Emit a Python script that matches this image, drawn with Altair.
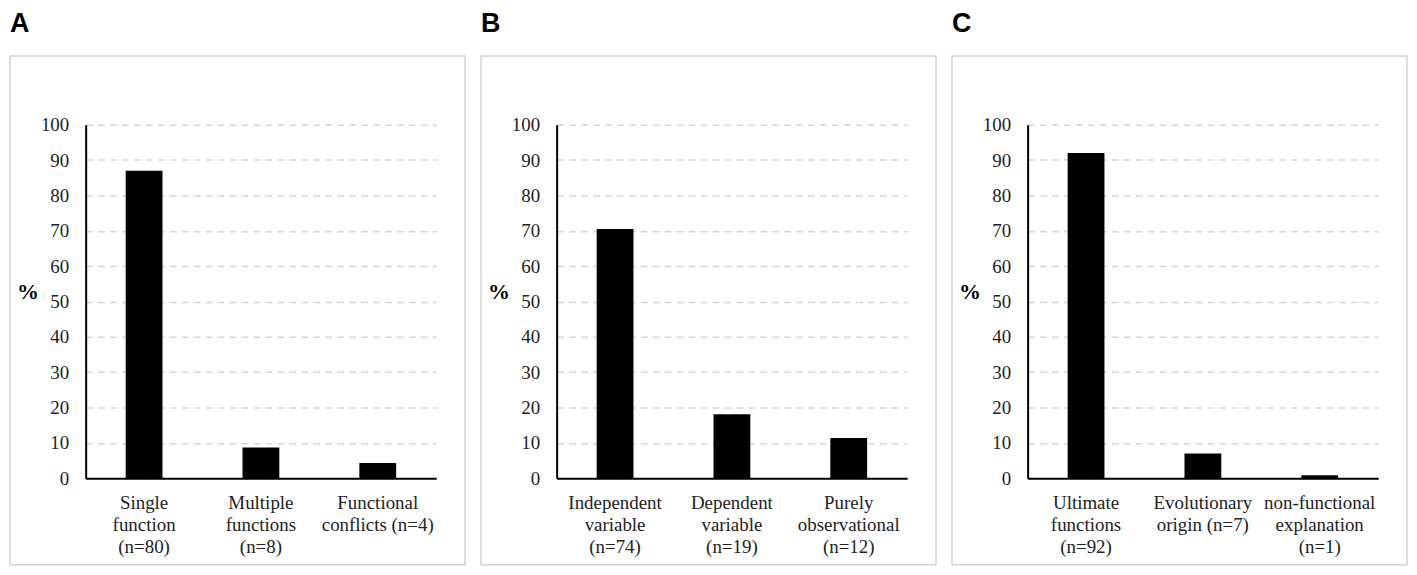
import altair as alt
import pandas as pd

panel_letters = ["A", "B", "C"]

cats_A = ["Single\nfunction\n(n=80)", "Multiple\nfunctions\n(n=8)", "Functional\nconflicts (n=4)"]
vals_A = [87.0, 8.7, 4.3]

cats_B = ["Independent\nvariable\n(n=74)", "Dependent\nvariable\n(n=19)", "Purely\nobservational\n(n=12)"]
vals_B = [70.5, 18.1, 11.4]

cats_C = ["Ultimate\nfunctions\n(n=92)", "Evolutionary\norigin (n=7)", "non-functional\nexplanation\n(n=1)"]
vals_C = [92.0, 7.0, 0.8]

y_ticks = [0, 10, 20, 30, 40, 50, 60, 70, 80, 90, 100]
y_title = "%"

W = 352
H = 355
SERIF = "Liberation Serif, DejaVu Serif, serif"


def panel(letter, cats, vals):
    df = pd.DataFrame({"cat": cats, "pct": vals})
    bars = alt.Chart(df).mark_bar(color="black").encode(
        x=alt.X(
            "cat:N",
            sort=cats,
            scale=alt.Scale(paddingInner=0.685, paddingOuter=0.3425),
            axis=alt.Axis(
                title=None,
                labelAngle=0,
                labelExpr="split(datum.label, '\\n')",
                labelFont=SERIF,
                labelFontSize=19,
                labelColor="#222222",
                labelPadding=15,
                labelLineHeight=22.5,
                labelBaseline="top",
                ticks=False,
                domainColor="black",
                domainWidth=2,
                zindex=1,
                labelLimit=300,
            ),
        ),
        y=alt.Y(
            "pct:Q",
            scale=alt.Scale(domain=[0, 100]),
            axis=alt.Axis(
                title=None,
                values=y_ticks,
                grid=True,
                gridDash=[7, 5],
                gridColor="#d6d6d6",
                gridWidth=1.5,
                ticks=False,
                domainColor="black",
                domainWidth=2,
                labelFont=SERIF,
                labelFontSize=19,
                labelColor="#222222",
                labelPadding=17,
            ),
        ),
    )
    one = alt.Data(values=[{"k": 1}])
    frame = alt.Chart(one).mark_rect(
        fillOpacity=0, stroke="#d4d4d4", strokeWidth=1.5
    ).encode(
        x=alt.value(-76), x2=alt.value(W + 29),
        y=alt.value(-69), y2=alt.value(H + 87),
    )
    lett = alt.Chart(one).mark_text(
        align="left", baseline="top", font="Liberation Sans",
        fontSize=27, fontWeight="bold", color="black",
    ).encode(x=alt.value(-76), y=alt.value(-114), text=alt.value(letter))
    pct = alt.Chart(one).mark_text(
        align="center", baseline="middle", font=SERIF,
        fontSize=22, fontWeight="bold", color="black",
    ).encode(x=alt.value(-58), y=alt.value(168), text=alt.value(y_title))
    return alt.layer(frame, bars, lett, pct).properties(width=W, height=H)


chart = alt.hconcat(
    panel(panel_letters[0], cats_A, vals_A),
    panel(panel_letters[1], cats_B, vals_B),
    panel(panel_letters[2], cats_C, vals_C),
    spacing=12,
).configure_view(stroke="transparent").properties(padding=0)

chart.save("out.html", embed_options={"renderer": "svg", "actions": False})
